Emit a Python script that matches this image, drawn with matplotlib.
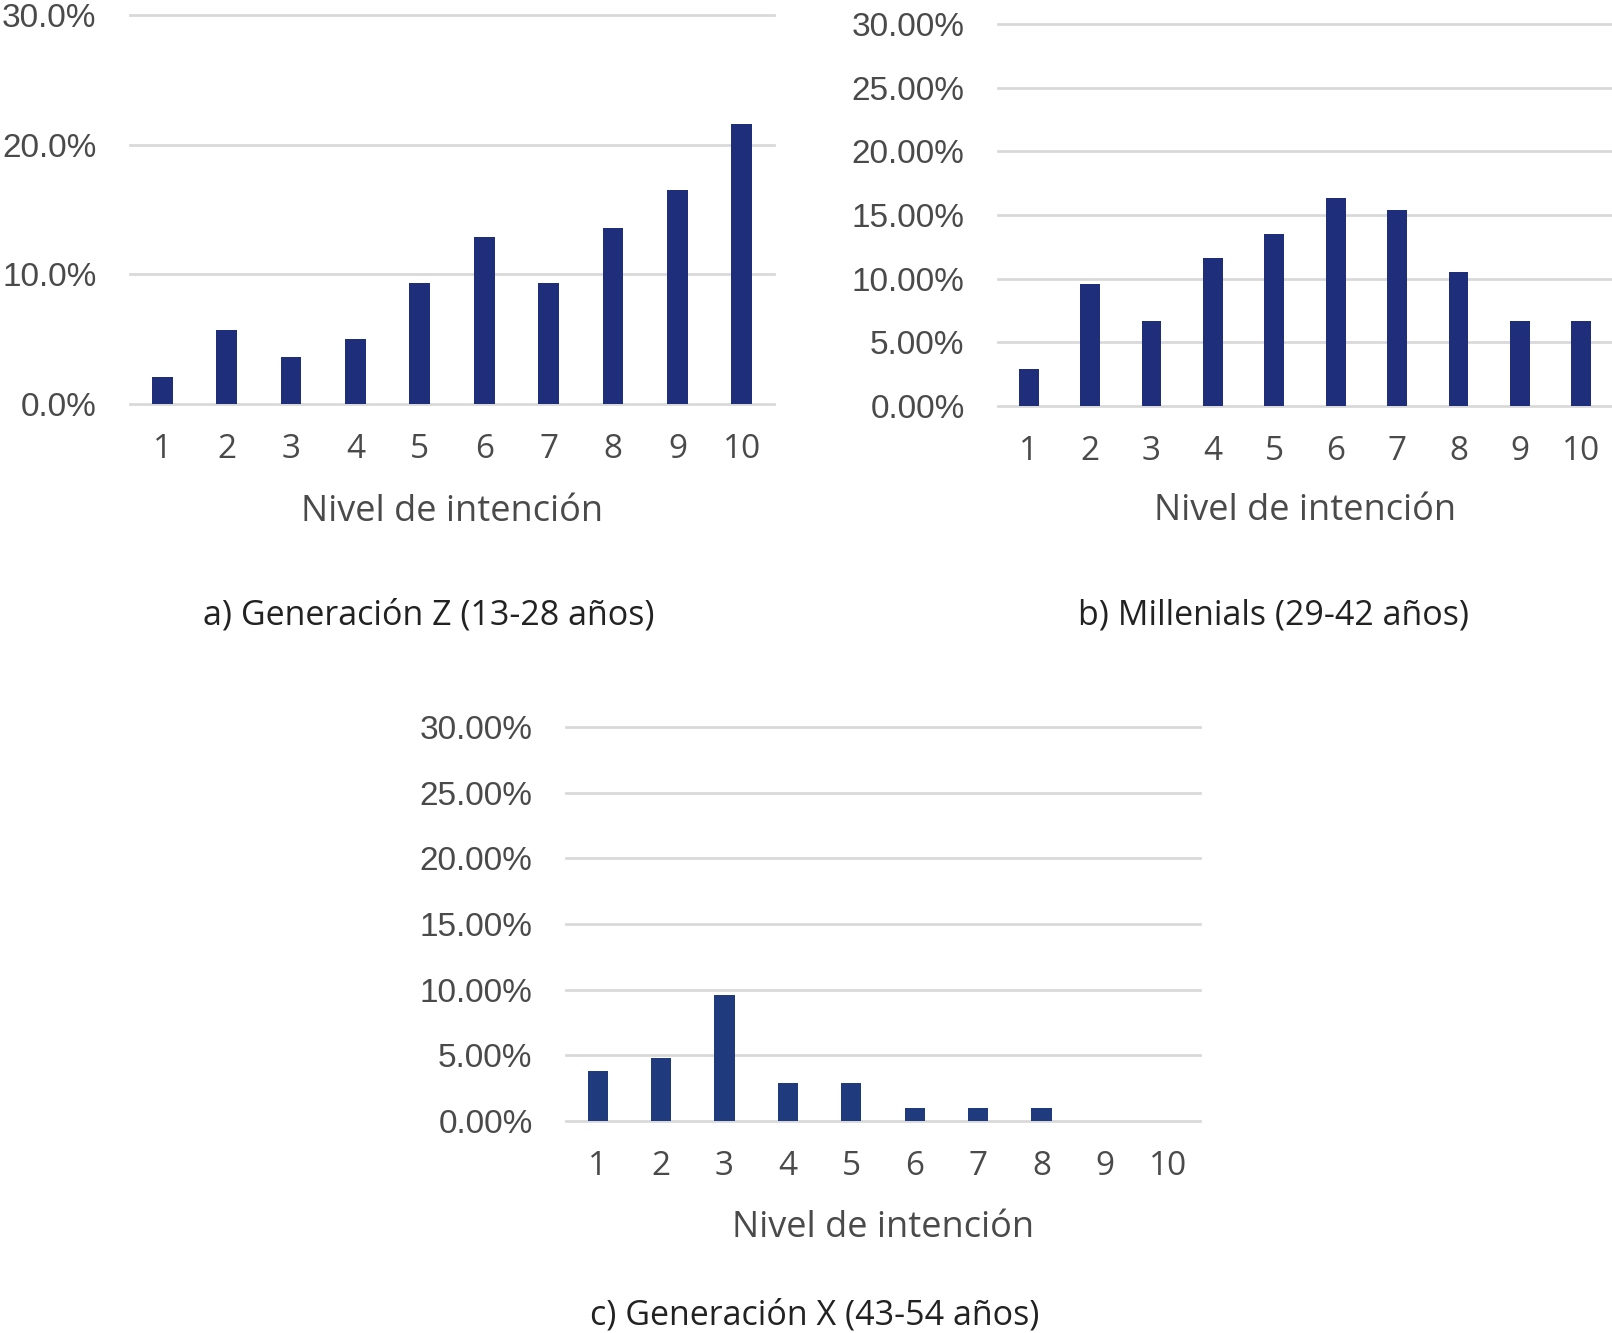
import matplotlib
matplotlib.use("Agg")
import matplotlib.pyplot as plt
from matplotlib.ticker import FuncFormatter

W, H = 1612, 1333

niveles = [1, 2, 3, 4, 5, 6, 7, 8, 9, 10]
gen_z = [2.1, 5.7, 3.6, 5.0, 9.3, 12.9, 9.3, 13.6, 16.5, 21.6]
millenials = [2.9, 9.6, 6.7, 11.6, 13.5, 16.3, 15.4, 10.5, 6.7, 6.7]
gen_x = [3.8, 4.8, 9.6, 2.9, 2.9, 1.0, 1.0, 1.0, 0.0, 0.0]

ticks_a = [0, 10, 20, 30]
ticks_bc = [0, 5, 10, 15, 20, 25, 30]

xlabel = "Nivel de intención"
captions = ["a) Generación Z (13-28 años)",
            "b) Millenials (29-42 años)",
            "c) Generación X (43-54 años)"]

fig = plt.figure(figsize=(W / 100, H / 100), dpi=100)
fig.patch.set_facecolor("white")

def px_axes(x0, x1, y_top, y_bot):
    return fig.add_axes([x0 / W, 1 - y_bot / H, (x1 - x0) / W, (y_bot - y_top) / H])

TICK_COLOR = "#4a4a4a"
GRID_COLOR = "#d9d9d9"

def draw(ax, vals, yticks, decimals, color):
    ax.bar(niveles, vals, width=0.32, color=color, zorder=3)
    ax.set_xlim(0.5, 10.5)
    ax.set_ylim(0, 30)
    ax.set_yticks(yticks)
    ax.yaxis.set_major_formatter(FuncFormatter(lambda v, p: f"{v:.{decimals}f}%"))
    ax.set_xticks(niveles)
    ax.set_xticklabels([str(n) for n in niveles])
    for s in ax.spines.values():
        s.set_visible(False)
    ax.tick_params(axis="both", length=0, colors=TICK_COLOR)
    ax.tick_params(axis="y", pad=24)
    ax.tick_params(axis="x", pad=21)
    for lab in ax.get_yticklabels():
        lab.set_fontfamily("Liberation Sans")
        lab.set_fontsize(24)
    for lab in ax.get_xticklabels():
        lab.set_fontfamily("Open Sans")
        lab.set_fontsize(24)
    ax.grid(axis="y", color=GRID_COLOR, linewidth=2, zorder=0)
    ax.grid(axis="x", visible=False)
    for gl in ax.get_ygridlines():
        gl.set_clip_on(False)
    ax.set_facecolor("none")

ax_a = px_axes(130, 774, 15, 404)
draw(ax_a, gen_z, ticks_a, 1, "#1f2e7a")
ax_b = px_axes(998, 1612, 24, 406)
draw(ax_b, millenials, ticks_bc, 2, "#1f2e7a")
ax_c = px_axes(566, 1200, 727, 1121)
draw(ax_c, gen_x, ticks_bc, 2, "#1f3a7d")

def ftext(xp, yp, s, size, color, family):
    fig.text(xp / W, 1 - yp / H, s, ha="center", va="center",
             fontsize=size, color=color, family=family)

ftext(452, 512, xlabel, 26, TICK_COLOR, "Open Sans")
ftext(1305, 511, xlabel, 26, TICK_COLOR, "Open Sans")
ftext(883, 1228, xlabel, 26, TICK_COLOR, "Open Sans")

ftext(429, 616, captions[0], 24.5, "#222222", "Open Sans")
ftext(1273, 616, captions[1], 24.5, "#222222", "Open Sans")
ftext(815, 1316, captions[2], 24.5, "#222222", "Open Sans")

fig.savefig("out.png", dpi=100, facecolor="white")
